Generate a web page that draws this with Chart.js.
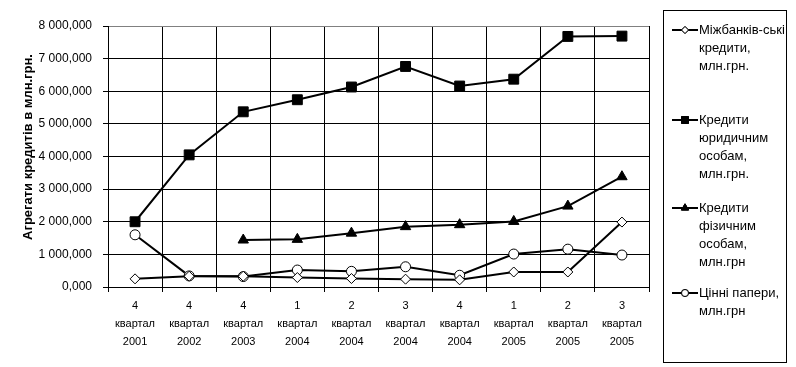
<!DOCTYPE html>
<html>
<head>
<meta charset="utf-8">
<script src="https://cdn.jsdelivr.net/npm/chart.js@4/dist/chart.umd.min.js"></script>
<style>
  body { margin: 0; background: #fff; }
  canvas { display: block; }
</style>
</head>
<body>
<canvas id="c" width="796" height="367"></canvas>
<script>
const quarters = ['4', '4', '4', '1', '2', '3', '4', '1', '2', '3'];
const years = ['2001', '2002', '2003', '2004', '2004', '2004', '2004', '2005', '2005', '2005'];

// млн.грн.
const interbank = [250, 330, 330, 290, 260, 240, 220, 460, 460, 1990];
const legalEntities = [2000, 4050, 5370, 5740, 6130, 6760, 6160, 6370, 7680, 7690];
const individuals = [null, null, 1440, 1460, 1650, 1850, 1910, 2010, 2480, 3380];
const securities = [1600, 340, 320, 520, 480, 620, 360, 1010, 1160, 980];

const yMax = 8000;
const yStep = 1000;
const yTitle = 'Агрегати кредитів в млн.грн.';

const legendLines = [
  ['Міжбанків-ські', 'кредити,', 'млн.грн.'],
  ['Кредити', 'юридичним', 'особам,', 'млн.грн.'],
  ['Кредити', 'фізичним', 'особам,', 'млн.грн'],
  ['Цінні папери,', 'млн.грн']
];

const FONT = '"Liberation Sans", Arial, sans-serif';

// 8000 -> "8 000,000"
function fmt(v) {
  const s = Math.round(v).toString().replace(/\B(?=(\d{3})+(?!\d))/g, ' ');
  return s + ',000';
}

const labels = quarters.map((q, i) => [q, 'квартал', years[i]]);

function series(label, data, style, fill, radius) {
  return {
    label, data,
    borderColor: '#000', borderWidth: 2,
    pointStyle: style, pointRadius: radius, pointHoverRadius: radius,
    pointBackgroundColor: fill, pointBorderColor: '#000', pointBorderWidth: 1,
    tension: 0, spanGaps: false
  };
}

// boxed legend on the right and the rotated axis title
const extras = {
  id: 'extras',
  afterDraw(chart) {
    const ctx = chart.ctx;
    ctx.save();
    ctx.strokeStyle = '#000';
    ctx.lineWidth = 1;
    ctx.strokeRect(663.5, 10.5, 123, 352);

    const tops = [30, 120, 208, 293];
    ctx.font = '13px ' + FONT;
    ctx.textBaseline = 'middle';
    ctx.textAlign = 'left';
    chart.data.datasets.forEach((ds, i) => {
      const y = tops[i];
      ctx.beginPath();
      ctx.strokeStyle = '#000';
      ctx.lineWidth = 2;
      ctx.moveTo(672, y);
      ctx.lineTo(698, y);
      ctx.stroke();
      ctx.lineWidth = 1;
      ctx.fillStyle = ds.pointBackgroundColor;
      Chart.helpers.drawPoint(ctx, { pointStyle: ds.pointStyle, radius: ds.pointRadius * 0.7, borderWidth: 1 }, 685, y);
      ctx.fill();
      ctx.stroke();
      ctx.fillStyle = '#000';
      legendLines[i].forEach((t, j) => ctx.fillText(t, 699, y + j * 18));
    });

    ctx.translate(28, 147);
    ctx.rotate(-Math.PI / 2);
    ctx.textAlign = 'center';
    ctx.font = 'bold 13px ' + FONT;
    ctx.fillText(yTitle, 0, 0);
    ctx.restore();
  }
};

new Chart(document.getElementById('c'), {
  type: 'line',
  data: {
    labels,
    datasets: [
      series('Міжбанків-ські кредити, млн.грн.', interbank, 'rectRot', '#fff', 5),
      series('Кредити юридичним особам, млн.грн.', legalEntities, 'rect', '#000', 7),
      series('Кредити фізичним особам, млн.грн', individuals, 'triangle', '#000', 6),
      series('Цінні папери, млн.грн', securities, 'circle', '#fff', 5)
    ]
  },
  options: {
    responsive: false,
    animation: false,
    devicePixelRatio: 1,
    layout: { padding: { top: 26, right: 147, left: 0, bottom: 0 } },
    plugins: { legend: { display: false }, tooltip: { enabled: false } },
    scales: {
      x: {
        offset: true,
        afterFit(s) { s.height = 80; },
        grid: {
          offset: true,
          color: c => c.index === 10 ? '#808080' : '#000',
          tickColor: '#000',
          tickLength: 5,
          lineWidth: 1
        },
        border: { color: '#000', width: 1 },
        ticks: {
          color: '#000',
          font: { family: FONT, size: 11, lineHeight: 1.64 },
          padding: 5,
          maxRotation: 0,
          autoSkip: false
        }
      },
      y: {
        min: 0,
        max: yMax,
        afterFit(s) { s.width = 108; },
        grid: {
          color: c => c.tick && c.tick.value === yMax ? '#808080' : '#000',
          tickColor: '#000',
          tickLength: 5,
          lineWidth: 1
        },
        border: { color: '#000', width: 1 },
        ticks: {
          stepSize: yStep,
          color: '#000',
          font: { family: FONT, size: 12 },
          padding: 11,
          callback: v => fmt(v)
        }
      }
    }
  },
  plugins: [extras]
});
</script>
</body>
</html>
